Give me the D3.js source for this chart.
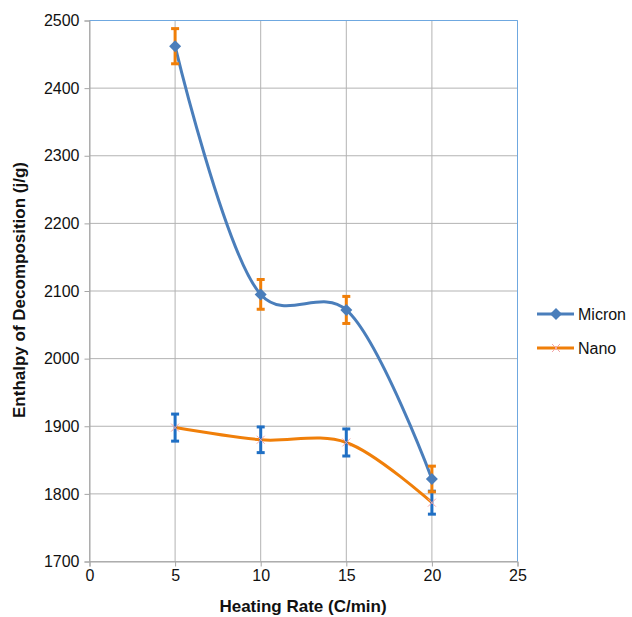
<!DOCTYPE html>
<html><head><meta charset="utf-8">
<script src="https://cdn.jsdelivr.net/npm/d3@7"></script>
<style>body{margin:0;background:#fff}svg{display:block}text{font-family:"Liberation Sans",Arial,sans-serif}</style>
</head><body><svg id="c" width="632" height="617"></svg>
<script>
const rates = [5, 10, 15, 20];
const micron = [2462, 2095, 2072, 1822];
const micronErr = [26, 22, 20, 19];
const nano = [1898, 1880, 1876, 1787];
const nanoErr = [20, 19, 20, 17];
const xTicks = [0, 5, 10, 15, 20, 25];
const yTicks = [1700, 1800, 1900, 2000, 2100, 2200, 2300, 2400, 2500];
const seriesNames = ["Micron", "Nano"];

const svg = d3.select("#c");
const L = 89.5, R = 517.5, T = 20.5, B = 561.5;
const x = d3.scaleLinear().domain([0, 25]).range([L, R]);
const y = d3.scaleLinear().domain([1700, 2500]).range([B, T]);
const blue = "#4a7ebb", orange = "#f07f09";

// gridlines
svg.append("g").selectAll("line.h").data(yTicks).join("line")
  .attr("x1", L).attr("x2", R).attr("y1", d => y(d)).attr("y2", d => y(d))
  .attr("stroke", "#b3b3b3").attr("stroke-width", 1);
svg.append("g").selectAll("line.v").data(xTicks).join("line")
  .attr("y1", T).attr("y2", B).attr("x1", d => x(d)).attr("x2", d => x(d))
  .attr("stroke", "#b3b3b3").attr("stroke-width", 1);
// border top/right blue
svg.append("path").attr("d", `M${L},${T}H${R}V${B}`).attr("fill", "none").attr("stroke", "#6fa8e0").attr("stroke-width", 1);

// axes
const yAx = svg.append("g").attr("transform", `translate(${L},0)`)
  .call(d3.axisLeft(y).tickValues(yTicks).tickSize(5).tickPadding(5).tickFormat(d3.format("d")));
const xAx = svg.append("g").attr("transform", `translate(0,${B})`)
  .call(d3.axisBottom(x).tickValues(xTicks).tickSize(5).tickPadding(3).tickFormat(d3.format("d")));
[yAx, xAx].forEach(a => {
  a.selectAll("path,line").attr("stroke", "#a6a6a6");
  a.selectAll("text").attr("font-size", 16).attr("fill", "#111");
});

// axis titles
svg.append("text").attr("x", 303).attr("y", 612).attr("text-anchor", "middle")
  .attr("font-size", 17).attr("font-weight", "bold").attr("fill", "#111").text("Heating Rate (C/min)");
svg.append("text").attr("transform", "translate(25,290) rotate(-90)").attr("text-anchor", "middle")
  .attr("font-size", 17).attr("font-weight", "bold").attr("fill", "#111").text("Enthalpy of Decomposition (j/g)");

const line = d3.line().x(d => x(d[0])).y(d => y(d[1])).curve(d3.curveCatmullRom.alpha(0.3));
const mData = rates.map((r, i) => [r, micron[i]]);
const nData = rates.map((r, i) => [r, nano[i]]);

svg.append("path").attr("d", line(nData)).attr("fill", "none").attr("stroke", orange).attr("stroke-width", 3);
svg.append("path").attr("d", line(mData)).attr("fill", "none").attr("stroke", blue).attr("stroke-width", 3);

// error bars (Micron shown orange, Nano shown blue as in reference)
function errBars(vals, errs, color) {
  const g = svg.append("g").attr("stroke", color).attr("stroke-width", 3).attr("fill", "none");
  rates.forEach((r, i) => {
    const cx = x(r), y1 = y(vals[i] + errs[i]), y2 = y(vals[i] - errs[i]);
    g.append("line").attr("x1", cx).attr("x2", cx).attr("y1", y1).attr("y2", y2);
    g.append("line").attr("x1", cx - 4).attr("x2", cx + 4).attr("y1", y1).attr("y2", y1);
    g.append("line").attr("x1", cx - 4).attr("x2", cx + 4).attr("y1", y2).attr("y2", y2);
  });
}
errBars(nano, nanoErr, "#1f6fc4");
errBars(micron, micronErr, orange);

// markers
const diamond = (cx, cy, s) => `M${cx},${cy - s}L${cx + s},${cy}L${cx},${cy + s}L${cx - s},${cy}Z`;
svg.append("g").selectAll("path").data(mData).join("path")
  .attr("d", d => diamond(x(d[0]), y(d[1]), 6)).attr("fill", blue);
const cross = (cx, cy, s) => `M${cx - s},${cy - s}L${cx + s},${cy + s}M${cx - s},${cy + s}L${cx + s},${cy - s}`;
svg.append("g").selectAll("path").data(nData).join("path")
  .attr("d", d => cross(x(d[0]), y(d[1]), 4)).attr("stroke", "#f4a6a6").attr("stroke-width", 1);

// legend
const leg = svg.append("g");
seriesNames.forEach((n, i) => {
  const ly = 314 + i * 34;
  const c = i === 0 ? blue : orange;
  leg.append("line").attr("x1", 537).attr("x2", 574).attr("y1", ly).attr("y2", ly).attr("stroke", c).attr("stroke-width", 3);
  if (i === 0) leg.append("path").attr("d", diamond(556, ly, 6)).attr("fill", blue);
  else leg.append("path").attr("d", cross(556, ly, 4)).attr("stroke", "#f4a6a6").attr("stroke-width", 1);
  leg.append("text").attr("x", 578).attr("y", ly + 6).attr("font-size", 16).attr("fill", "#111").text(n);
});
</script></body></html>
